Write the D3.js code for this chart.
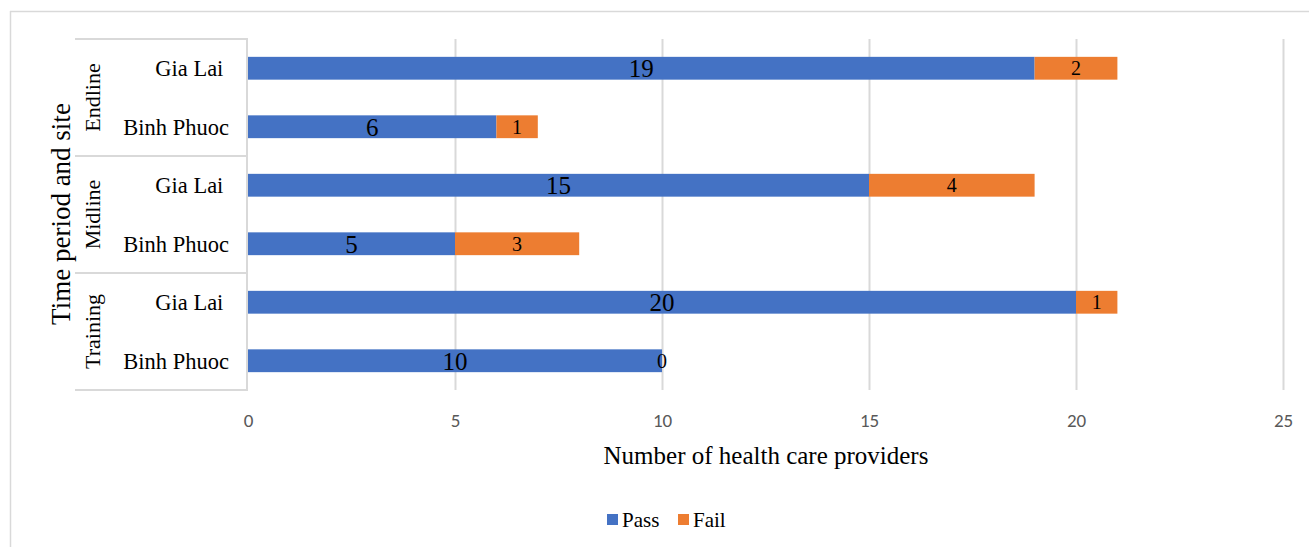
<!DOCTYPE html>
<html><head><meta charset="utf-8">
<script src="https://cdn.jsdelivr.net/npm/d3@7"></script>
<style>body{margin:0;background:#fff}svg{display:block}text{white-space:pre}</style>
</head><body>
<script>
const periods = ["Endline","Midline","Training"];
const sites = ["Gia Lai ","Binh Phuoc"];
const rowKeys = ["Endline|Gia Lai ","Endline|Binh Phuoc","Midline|Gia Lai ","Midline|Binh Phuoc","Training|Gia Lai ","Training|Binh Phuoc"];
const passValues = [19,6,15,5,20,10];
const failValues = [2,1,4,3,1,0];
const xTicks = [0,5,10,15,20,25];
const seriesNames = ["Pass","Fail"];
const colors = ["#4472C4","#ED7D31"];

const W=1309,H=547;
const svg=d3.select("body").append("svg").attr("width",W).attr("height",H);
const serif="'Liberation Serif','Times New Roman',serif";
const sans="Carlito,'Liberation Sans',Arial,sans-serif";

// outer frame
svg.append("line").attr("x1",10).attr("x2",W).attr("y1",11.5).attr("y2",11.5).attr("stroke","#d9d9d9").attr("stroke-width",1.5);
svg.append("line").attr("x1",10.5).attr("x2",10.5).attr("y1",11).attr("y2",H).attr("stroke","#d9d9d9").attr("stroke-width",1.5);

const x=d3.scaleLinear().domain([0,25]).range([248,1283]);
const y=d3.scaleBand().domain(rowKeys).range([39,390]).paddingInner(0.61).paddingOuter(0.305);

// gridlines
svg.append("g").selectAll("line").data(xTicks.slice(1)).join("line")
  .attr("x1",d=>x(d)+0.5).attr("x2",d=>x(d)+0.5).attr("y1",39).attr("y2",390)
  .attr("stroke","#d9d9d9").attr("stroke-width",2);

// x axis tick labels
const xAxis=d3.axisBottom(x).tickValues(xTicks).tickSize(0).tickPadding(0);
const gx=svg.append("g").attr("transform","translate(0,427)").call(xAxis);
gx.select(".domain").remove();
gx.selectAll("text").attr("font-family",sans).attr("font-size",19).attr("fill","#595959").attr("dy",0).attr("y",0);

// bars
const rows=rowKeys.map((k,i)=>({k,pass:passValues[i],fail:failValues[i]}));
const stack=d3.stack().keys(["pass","fail"])(rows);
stack.forEach((s,si)=>{
  svg.append("g").selectAll("rect").data(s).join("rect")
    .attr("x",d=>x(d[0])).attr("width",d=>x(d[1])-x(d[0]))
    .attr("y",d=>y(d.data.k)).attr("height",y.bandwidth())
    .attr("fill",colors[si]);
});
// labels
stack.forEach((s,si)=>{
  svg.append("g").selectAll("text").data(s).join("text")
    .attr("x",d=>(x(d[0])+x(d[1]))/2).attr("y",d=>y(d.data.k)+y.bandwidth()/2)
    .attr("dy","0.36em").attr("text-anchor","middle")
    .attr("font-family",serif).attr("font-size",si===0?25:20).attr("fill","#000")
    .text(d=>d[1]-d[0]);
});

// category axis boxes
const ax=svg.append("g").attr("stroke","#d9d9d9").attr("stroke-width",2);
ax.append("line").attr("x1",247).attr("x2",247).attr("y1",39).attr("y2",391);
[39,156,273,390].forEach(v=>ax.append("line").attr("x1",75).attr("x2",248).attr("y1",v).attr("y2",v));

// site labels
svg.append("g").selectAll("text").data(rowKeys).join("text")
  .attr("x",229).attr("y",d=>y(d)+y.bandwidth()/2).attr("dy","0.35em")
  .attr("text-anchor","end").attr("font-family",serif).attr("font-size",22.5).attr("fill","#000")
  .text(d=>d.split("|")[1]);
// period labels
svg.append("g").selectAll("text").data(periods).join("text")
  .attr("transform",(d,i)=>`translate(100,${39+117*i+58.5}) rotate(-90)`)
  .attr("text-anchor","middle").attr("font-family",serif).attr("font-size",22).attr("fill","#000")
  .text(d=>d);
// axis titles
svg.append("text").attr("transform","translate(70,214) rotate(-90)").attr("text-anchor","middle")
  .attr("font-family",serif).attr("font-size",27).attr("fill","#000").text("Time period and site");
svg.append("text").attr("x",766).attr("y",464).attr("text-anchor","middle")
  .attr("font-family",serif).attr("font-size",25).attr("fill","#000").text("Number of health care providers");

// legend
const lg=svg.append("g").attr("transform","translate(607,520)");
const items=[{n:seriesNames[0],c:colors[0],x:0},{n:seriesNames[1],c:colors[1],x:71}];
items.forEach(it=>{
  lg.append("rect").attr("x",it.x).attr("y",-6).attr("width",11).attr("height",11).attr("fill",it.c);
  lg.append("text").attr("x",it.x+15).attr("y",0).attr("dy","0.35em").attr("font-family",serif).attr("font-size",21).attr("fill","#000").text(it.n);
});
</script>
</body></html>
